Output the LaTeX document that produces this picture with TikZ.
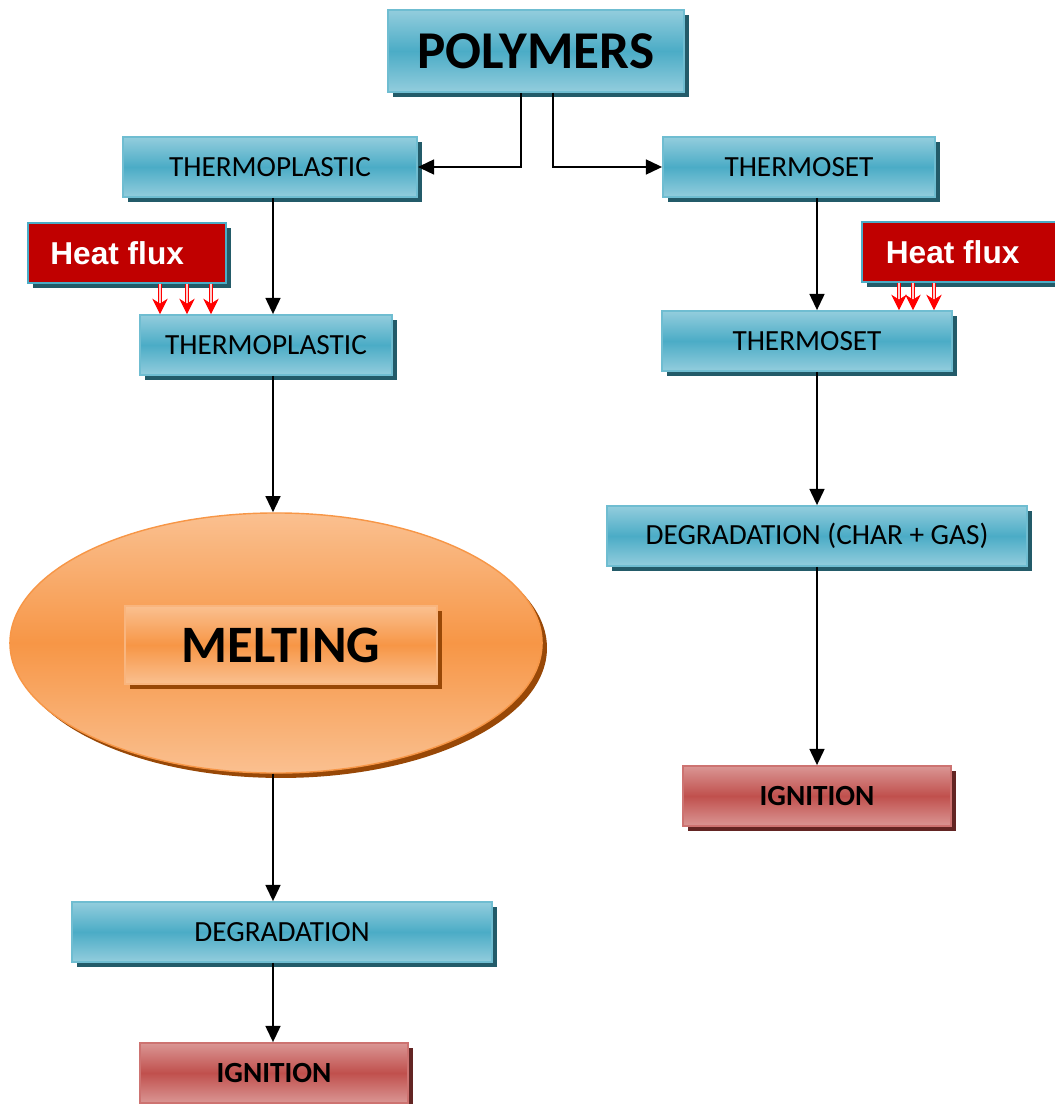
\documentclass[tikz,border=0pt]{standalone}
\usepackage{fontspec}
\setmainfont{Carlito}
\newfontfamily\arialfont{Liberation Sans}
\usetikzlibrary{arrows.meta,shadows,shapes.geometric}

\definecolor{aqualight}{HTML}{93CDDD}
\definecolor{aquamid}{HTML}{4BACC6}
\definecolor{aquadark}{HTML}{235B69}
\definecolor{redlight}{HTML}{DA9694}
\definecolor{redmid}{HTML}{C0504D}
\definecolor{reddark}{HTML}{632523}
\definecolor{orangelight}{HTML}{FAC090}
\definecolor{orangemid}{HTML}{F79646}
\definecolor{orangedark}{HTML}{984807}
\definecolor{heatred}{HTML}{C00000}

\tikzset{
  bluebox/.style={draw=aquamid!80!white, line width=1.2pt, top color=aqualight, bottom color=aqualight, middle color=aquamid,
    minimum height=1.5cm, inner sep=0pt, font=\fontsize{20.8}{24}\selectfont,
    drop shadow={shadow xshift=3.5pt, shadow yshift=-3.5pt, fill=aquadark, opacity=1}},
  redbox/.style={draw=redmid!80!white, line width=1.2pt, top color=redlight, bottom color=redlight, middle color=redmid,
    minimum height=1.5cm, inner sep=0pt, font=\fontsize{20.8}{24}\selectfont\bfseries,
    drop shadow={shadow xshift=3.5pt, shadow yshift=-3.5pt, fill=reddark, opacity=1}},
  heatbox/.style={draw=aquamid, line width=1.2pt, fill=heatred, text=white, minimum height=1.5cm, inner sep=0pt,
    font=\arialfont\fontsize{22.5}{26}\selectfont\bfseries,
    drop shadow={shadow xshift=3.5pt, shadow yshift=-3.5pt, fill=aquadark, opacity=1}},
  orangefill/.style={top color=orangelight, bottom color=orangelight, middle color=orangemid,
    drop shadow={shadow xshift=3.5pt, shadow yshift=-3.5pt, fill=orangedark, opacity=1}},
  conn/.style={line width=1.6pt, -{Triangle[length=11.5pt, width=10.5pt]}},
  heat/.style={red, line width=0.5pt, double=red!20!white, double distance=1.3pt, -{Stealth[length=11pt, width=11pt, inset=3.5pt, fill=red]}}
}

\begin{document}
\begin{tikzpicture}[x=0.025cm, y=-0.025cm]
  \useasboundingbox (0,0) rectangle (1054,1104);

  % top
  \node[bluebox, minimum width=7.4cm, minimum height=2.05cm, font=\fontsize{37.8}{42}\selectfont\bfseries] (poly) at (536,51) {POLYMERS};

  % left branch
  \node[bluebox, minimum width=7.35cm] (tpA) at (270,167) {THERMOPLASTIC};
  \node[heatbox, minimum width=4.95cm] (hfL) at (127,253) {Heat flux\kern14pt};
  \node[bluebox, minimum width=6.3cm] (tpB) at (266,345) {THERMOPLASTIC};
  \node[ellipse, draw=orangemid, line width=1pt, orangefill,
    minimum width=13.3cm, minimum height=6.5cm, inner sep=0pt] (melt) at (276,643) {};
  \node[draw=orangemid!70!white, line width=1pt, orangefill,
    minimum width=7.8cm, minimum height=1.95cm, inner sep=0pt, font=\fontsize{37.4}{42}\selectfont\bfseries] (meltbox) at (281,645) {MELTING};
  \node[bluebox, minimum width=10.5cm] (degL) at (282,932) {DEGRADATION};
  \node[redbox, minimum width=6.7cm] (ignL) at (274,1073) {IGNITION};

  % right branch
  \node[bluebox, minimum width=6.8cm] (tsA) at (799,167) {THERMOSET};
  \node[heatbox, minimum width=4.85cm] (hfR) at (959,252) {Heat flux\kern9pt};
  \node[bluebox, minimum width=7.25cm] (tsB) at (807,341) {THERMOSET};
  \node[bluebox, minimum width=10.5cm] (degR) at (817,536) {DEGRADATION (CHAR + GAS)};
  \node[redbox, minimum width=6.7cm] (ignR) at (817,796) {IGNITION};

  % connectors
  \draw[conn] (521,0 |- poly.south) |- (tpA.east);
  \draw[conn] (553,0 |- poly.south) |- (tsA.west);
  \draw[conn] (273,0 |- tpA.south) -- (273,0 |- tpB.north);
  \draw[conn] (273,0 |- tpB.south) -- (273,0 |- melt.north);
  \draw[conn] (273,0 |- melt.south) -- (273,0 |- degL.north);
  \draw[conn] (273,0 |- degL.south) -- (273,0 |- ignL.north);
  \draw[conn] (817,0 |- tsA.south) -- (817,0 |- tsB.north);
  \draw[conn] (817,0 |- tsB.south) -- (degR.north);
  \draw[conn] (degR.south) -- (ignR.north);

  % heat flux
  \foreach \x in {160,187,211}
    \draw[heat] (\x,0 |- hfL.south) -- (\x,0 |- tpB.north);
  \foreach \x in {899,913,934}
    \draw[heat] (\x,0 |- hfR.south) -- (\x,0 |- tsB.north);
\end{tikzpicture}
\end{document}
